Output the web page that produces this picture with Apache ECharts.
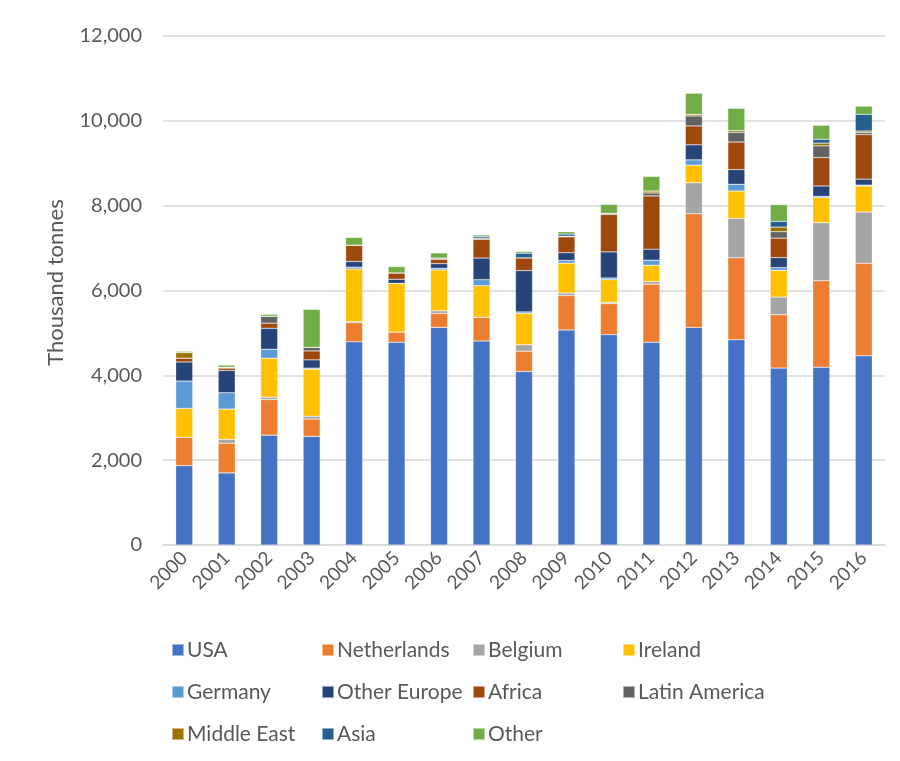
<!DOCTYPE html>
<html>
<head>
<meta charset="utf-8">
<script src="https://cdn.jsdelivr.net/npm/echarts@6/dist/echarts.min.js"></script>
<style>
  body { margin: 0; background: #fff; }
  #chart { width: 900px; height: 761px; }
</style>
</head>
<body>
<div id="chart"></div>
<script>
  const years = ['2000', '2001', '2002', '2003', '2004', '2005', '2006', '2007', '2008',
    '2009', '2010', '2011', '2012', '2013', '2014', '2015', '2016'];

  const usa          = [1870, 1700, 2590, 2560, 4790, 4780, 5130, 4810, 4090, 5070, 4960, 4780, 5130, 4840, 4170, 4190, 4460];
  const netherlands  = [670, 700, 840, 410, 450, 240, 330, 560, 480, 810, 730, 1370, 2680, 1930, 1260, 2040, 2180];
  const belgium      = [0, 90, 55, 65, 25, 0, 60, 0, 150, 60, 30, 60, 730, 930, 415, 1370, 1210];
  const ireland      = [680, 715, 920, 1110, 1240, 1150, 965, 745, 740, 705, 535, 385, 415, 645, 630, 590, 615];
  const germany      = [645, 385, 210, 25, 45, 0, 40, 140, 35, 65, 40, 120, 125, 160, 65, 30, 20];
  const otherEurope  = [450, 525, 495, 195, 135, 95, 110, 510, 975, 180, 615, 260, 355, 345, 235, 245, 140];
  const africa       = [90, 55, 120, 210, 385, 150, 100, 440, 300, 375, 880, 1255, 445, 650, 460, 670, 1050];
  const latinAmerica = [0, 20, 165, 85, 0, 0, 30, 30, 0, 15, 30, 70, 235, 230, 150, 275, 50];
  const middleEast   = [130, 0, 0, 0, 0, 0, 0, 0, 0, 0, 0, 45, 40, 40, 110, 65, 35];
  const asia         = [0, 0, 0, 0, 0, 0, 0, 40, 110, 50, 0, 0, 0, 0, 135, 90, 395];
  const other        = [30, 50, 45, 895, 180, 150, 120, 35, 40, 55, 210, 345, 495, 525, 395, 330, 190];

  const yTicks = [0, 2000, 4000, 6000, 8000, 10000, 12000];

  const seriesDefs = [
    ['USA', usa, '#4472C4'],
    ['Netherlands', netherlands, '#ED7D31'],
    ['Belgium', belgium, '#A5A5A5'],
    ['Ireland', ireland, '#FFC000'],
    ['Germany', germany, '#5B9BD5'],
    ['Other Europe', otherEurope, '#264478'],
    ['Africa', africa, '#9E480E'],
    ['Latin America', latinAmerica, '#636363'],
    ['Middle East', middleEast, '#997300'],
    ['Asia', asia, '#255E91'],
    ['Other', other, '#70AD47']
  ];

  const font = 'Lato, "Open Sans", sans-serif';
  const textGrey = '#595959';

  // legend laid out in 4 columns, like the Excel one
  const legendCols = [
    ['USA', 'Germany', 'Middle East'],
    ['Netherlands', 'Other Europe', 'Asia'],
    ['Belgium', 'Africa', 'Other'],
    ['Ireland', 'Latin America']
  ];
  const colLeft = [166, 316, 467, 617];

  const myChart = echarts.init(document.getElementById('chart'));

  const options = {
    animation: false,
    color: seriesDefs.map(d => d[2]),
    grid: { left: 163, right: 15, top: 36, bottom: 216 },
    legend: legendCols.map((col, i) => ({
      orient: 'vertical',
      left: colLeft[i],
      top: 634,
      data: col,
      itemWidth: 12,
      itemHeight: 12,
      itemGap: 20,
      icon: 'rect',
      selectedMode: false,
      textStyle: { color: textGrey, fontSize: 21, fontFamily: font, lineHeight: 22, padding: [0, 0, 0, -2] }
    })),
    xAxis: {
      type: 'category',
      data: years,
      axisLine: { lineStyle: { color: '#d9d9d9', width: 1.5 } },
      axisTick: { show: false },
      axisLabel: { rotate: 45, margin: 10, color: textGrey, fontSize: 19, fontFamily: font }
    },
    yAxis: {
      type: 'value',
      min: yTicks[0],
      max: yTicks[yTicks.length - 1],
      interval: 2000,
      name: 'Thousand tonnes',
      nameLocation: 'middle',
      nameRotate: 90,
      nameGap: 96,
      nameTextStyle: { color: textGrey, fontSize: 22, fontFamily: font, padding: [0, 0, 0, 16] },
      axisLine: { show: false },
      axisTick: { show: false },
      splitLine: { lineStyle: { color: '#d9d9d9', width: 1.5 } },
      axisLabel: {
        margin: 21,
        color: textGrey,
        fontSize: 20,
        fontFamily: font,
        formatter: v => v.toLocaleString('en-US')
      }
    },
    series: seriesDefs.map(d => ({
      name: d[0],
      type: 'bar',
      stack: 'total',
      barWidth: 17,
      data: d[1],
      itemStyle: { color: d[2], borderColor: 'rgba(255,255,255,0.5)', borderWidth: 0.5 }
    }))
  };

  myChart.setOption(options);
</script>
</body>
</html>
